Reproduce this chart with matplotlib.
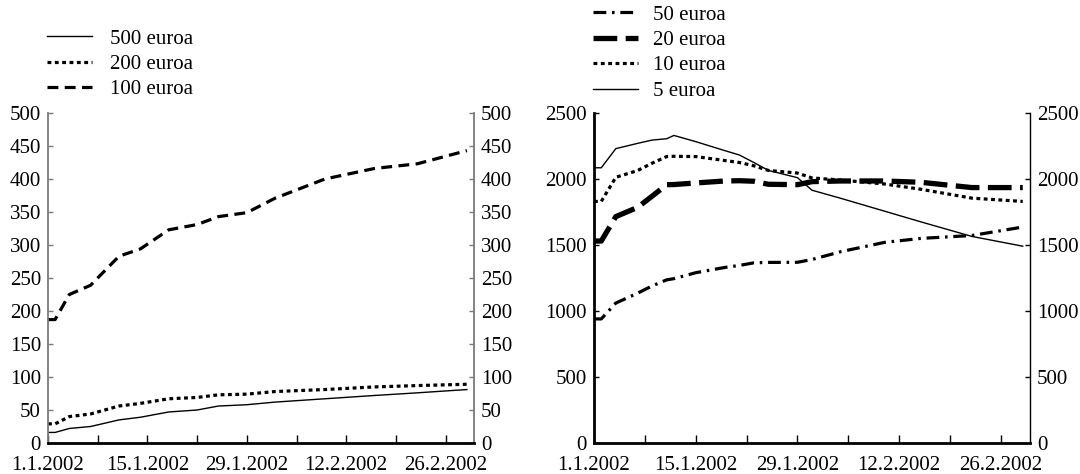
import matplotlib
matplotlib.use("Agg")
import matplotlib.pyplot as plt

plt.rcParams['font.family'] = ['Liberation Serif', 'DejaVu Serif']
plt.rcParams['font.size'] = 15

# Days counted from 1.1.2002
days_left = [0, 1, 3, 6, 10, 13, 17, 21, 24, 28, 32, 39, 46, 52, 59]
eur500 = [16, 16, 22, 25, 35, 39, 47, 50, 56, 58, 62, 67, 72, 76, 81]
eur200 = [29, 29, 40, 44, 56, 60, 67, 69, 73, 74, 78, 81, 85, 87, 89]
eur100 = [187, 187, 225, 239, 283, 294, 323, 331, 343, 349, 371, 400, 416, 423, 443]

days_right = [0, 1, 3, 6, 8, 10, 11, 14, 18, 20, 22, 24, 28, 30, 34, 40, 45, 52, 59]
eur50 = [940, 940, 1060, 1135, 1190, 1236, 1245, 1290, 1330, 1345, 1365, 1368, 1369, 1390, 1450, 1520, 1550, 1572, 1636]
eur20 = [1530, 1530, 1715, 1785, 1870, 1957, 1958, 1970, 1985, 1987, 1983, 1960, 1957, 1980, 1985, 1985, 1975, 1935, 1935]
eur10 = [1830, 1830, 2013, 2064, 2120, 2170, 2172, 2170, 2140, 2125, 2100, 2065, 2045, 2008, 1992, 1962, 1922, 1855, 1830]
eur5 = [2085, 2085, 2230, 2270, 2295, 2305, 2330, 2283, 2215, 2182, 2125, 2065, 2010, 1915, 1853, 1756, 1675, 1565, 1491]

tick_days = [0, 7, 14, 21, 28, 35, 42, 49, 56]
tick_labels = ['1.1.2002', '', '15.1.2002', '', '29.1.2002', '', '12.2.2002', '', '26.2.2002']

W, H = 1080, 474
fig = plt.figure(figsize=(W / 100, H / 100), dpi=100)

def px_axes(x0, x1, ytop, ybot):
    return fig.add_axes([x0 / W, 1 - ybot / H, (x1 - x0) / W, (ybot - ytop) / H])

axL = px_axes(48, 474, 113, 443)
axR = px_axes(594, 1030, 113, 443)

axL.plot(days_left, eur500, color='black', lw=1.0, label='500 euroa')
axL.plot(days_left, eur200, color='black', lw=2.3, linestyle=(0, (1.2, 1.1)), label='200 euroa')
axL.plot(days_left, eur100, color='black', lw=2.3, linestyle=(0, (3.4, 2.0)), label='100 euroa')
axL.set_ylim(0, 500)
axL.set_yticks(range(0, 501, 50))

axR.plot(days_right, eur50, color='black', lw=2.3, linestyle=(0, (4.0, 1.8, 0.8, 1.8)), label='50 euroa')
axR.plot(days_right, eur20, color='black', lw=3.8, linestyle=(0, (4.5, 1.6)), label='20 euroa')
axR.plot(days_right, eur10, color='black', lw=2.3, linestyle=(0, (1.2, 1.1)), label='10 euroa')
axR.plot(days_right, eur5, color='black', lw=1.0, label='5 euroa')
axR.set_ylim(0, 2500)
axR.set_yticks(range(0, 2501, 500))

for ax in (axL, axR):
    ax.set_xlim(0, 60)
    ax.set_xticks(tick_days)
    ax.set_xticklabels(tick_labels)
    ax.spines['top'].set_visible(False)
    ax.spines['bottom'].set_linewidth(2.0)
    ax.tick_params(axis='x', direction='in', length=6, width=1.0, pad=9, labelsize=15)
    ax.tick_params(axis='y', direction='in', length=3.5, width=1.0, pad=5, labelsize=15,
                   left=True, right=True, labelleft=True, labelright=True)

axL.spines['left'].set_color('#7a7a7a')
axL.spines['right'].set_color('#7a7a7a')
axL.spines['left'].set_linewidth(1.3)
axL.spines['right'].set_linewidth(1.3)
axL.tick_params(axis='y', color='#7a7a7a')

axR.spines['left'].set_linewidth(2.0)
axR.spines['right'].set_linewidth(1.0)

legL = axL.legend(loc='upper left', bbox_to_anchor=(47 / W, 1 - 29 / H),
                  bbox_transform=fig.transFigure, frameon=False, fontsize=15,
                  handlelength=2.17, handletextpad=0.85, labelspacing=0.28,
                  borderpad=0, borderaxespad=0)
legR = axR.legend(loc='upper left', bbox_to_anchor=(593 / W, 1 - 5 / H),
                  bbox_transform=fig.transFigure, frameon=False, fontsize=15,
                  handlelength=2.17, handletextpad=0.72, labelspacing=0.28,
                  borderpad=0, borderaxespad=0)

fig.savefig('out.png', dpi=100)
